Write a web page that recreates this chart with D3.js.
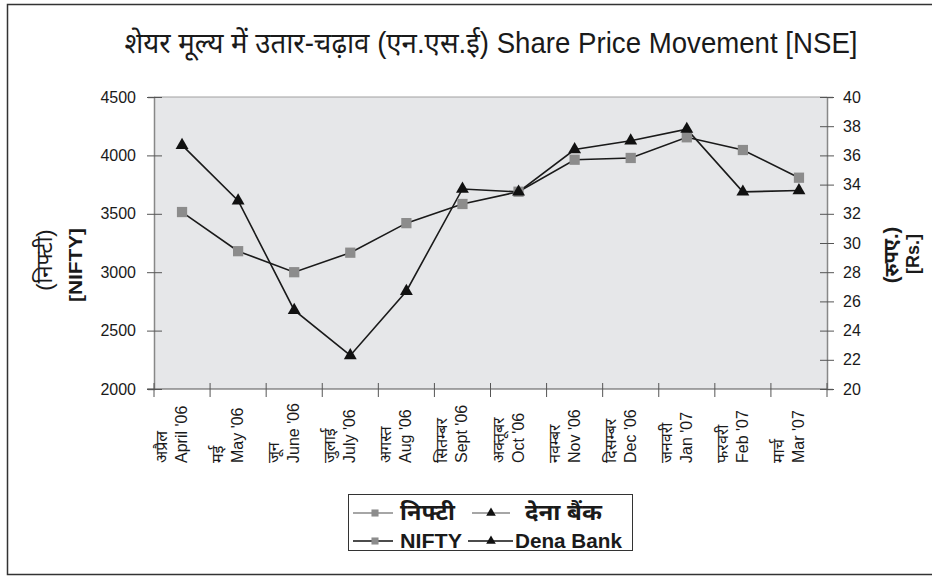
<!DOCTYPE html>
<html>
<head>
<meta charset="utf-8">
<script src="https://cdn.jsdelivr.net/npm/d3@7/dist/d3.min.js"></script>
<style>
  body { margin: 0; background: #fff; }
  text { font-family: "Liberation Sans", Arial, "Noto Sans", sans-serif; fill: #1a1a1a; }
</style>
</head>
<body>
<div id="container"></div>
<script>
let w = 932;
let h = 576;

// data
let monthsHi = ["अप्रैल", "मई", "जून", "जुलाई", "अगस्त", "सितम्बर", "अक्तूबर", "नवम्बर", "दिसम्बर", "जनवरी", "फरवरी", "मार्च"];
let monthsEn = ["April '06", "May '06", "June '06", "July '06", "Aug '06", "Sept '06", "Oct '06", "Nov '06", "Dec '06", "Jan '07", "Feb '07", "Mar '07"];
let nifty = [3515, 3180, 3000, 3167, 3420, 3584, 3689, 3963, 3978, 4155, 4046, 3809];
let denaBank = [36.7, 32.9, 25.4, 22.3, 26.7, 33.7, 33.5, 36.4, 37.0, 37.8, 33.5, 33.6];
let leftTicks = [2000, 2500, 3000, 3500, 4000, 4500];
let rightTicks = [20, 22, 24, 26, 28, 30, 32, 34, 36, 38, 40];

let plotLeft = 154, plotRight = 827, plotTop = 97, plotBottom = 389;

let viz = d3.select("#container")
  .append("svg")
    .attr("width", w)
    .attr("height", h)
    .style("display", "block");

// outer frame (right edge runs off the picture)
viz.append("rect")
  .attr("x", 7.5).attr("y", 4.5)
  .attr("width", 940).attr("height", 570)
  .attr("fill", "#fff")
  .attr("stroke", "#333")
  .attr("stroke-width", 1.5);

// title
viz.append("text")
  .attr("x", 491).attr("y", 53)
  .attr("text-anchor", "middle")
  .attr("font-size", 29)
  .attr("textLength", 733)
  .attr("lengthAdjust", "spacingAndGlyphs")
  .text("शेयर मूल्य में उतार-चढ़ाव (एन.एस.ई) Share Price Movement [NSE]");

let xScale = d3.scaleBand().domain(monthsEn).range([plotLeft, plotRight]);
let yLeft = d3.scaleLinear().domain([2000, 4500]).range([plotBottom, plotTop]);
let yRight = d3.scaleLinear().domain([20, 40]).range([plotBottom, plotTop]);

// plot background
viz.append("rect")
  .attr("x", plotLeft).attr("y", plotTop)
  .attr("width", plotRight - plotLeft).attr("height", plotBottom - plotTop)
  .attr("fill", "#e6e7e9");

viz.append("line")
  .attr("x1", plotLeft).attr("x2", plotRight)
  .attr("y1", plotTop).attr("y2", plotTop)
  .attr("stroke", "#a0a0a0");

// left axis
let leftAxis = viz.append("g")
  .attr("transform", "translate(" + plotLeft + ",0)")
  .call(d3.axisLeft(yLeft).tickValues(leftTicks).tickFormat(d3.format("d")).tickSize(6));
leftAxis.select(".domain").attr("stroke", "#888").attr("stroke-width", 1.5);
leftAxis.selectAll(".tick line").attr("stroke", "#555").attr("x1", 8).attr("x2", -7);
leftAxis.selectAll(".tick text")
  .attr("x", -18)
  .attr("font-size", 16)
  .attr("font-family", "Liberation Sans, Arial, sans-serif")
  .attr("fill", "#1a1a1a");

// right axis
let rightAxis = viz.append("g")
  .attr("transform", "translate(" + plotRight + ",0)")
  .call(d3.axisRight(yRight).tickValues(rightTicks).tickSize(6));
rightAxis.select(".domain").attr("stroke", "#888").attr("stroke-width", 1.5);
rightAxis.selectAll(".tick line").attr("stroke", "#555").attr("x1", -7).attr("x2", 7);
rightAxis.selectAll(".tick text")
  .attr("x", 16)
  .attr("font-size", 16)
  .attr("font-family", "Liberation Sans, Arial, sans-serif")
  .attr("fill", "#1a1a1a");

// bottom axis, ticks at band boundaries
let bottomAxis = viz.append("g")
  .attr("transform", "translate(0," + plotBottom + ")");
bottomAxis.append("line")
  .attr("x1", plotLeft - 7).attr("x2", plotRight)
  .attr("stroke", "#555").attr("stroke-width", 1.2);
let bounds = monthsEn.map(function(m){ return xScale(m); }).concat([plotRight]);
bottomAxis.selectAll(".bt")
  .data(bounds)
  .enter()
  .append("line")
    .attr("x1", function(d){ return d; })
    .attr("x2", function(d){ return d; })
    .attr("y1", -6).attr("y2", 8)
    .attr("stroke", "#555");

// month labels, read bottom-up, aligned at the bottom
let labels = viz.selectAll(".mlabel")
  .data(monthsEn)
  .enter()
  .append("g")
    .attr("class", "mlabel")
    .attr("transform", function(d){
      return "translate(" + (xScale(d) + xScale.bandwidth() / 2) + ",463) rotate(-90)";
    });
labels.append("text")
  .attr("x", 0).attr("y", -15)
  .attr("text-anchor", "start")
  .attr("font-size", 16)
  .text(function(d, i){ return monthsHi[i]; });
labels.append("text")
  .attr("x", 0).attr("y", 5)
  .attr("text-anchor", "start")
  .attr("font-size", 16)
  .text(function(d){ return d; });

// lines
function cx(i){ return xScale(monthsEn[i]) + xScale.bandwidth() / 2; }
let niftyLine = d3.line()
  .x(function(d, i){ return cx(i); })
  .y(function(d){ return yLeft(d); });
let denaLine = d3.line()
  .x(function(d, i){ return cx(i); })
  .y(function(d){ return yRight(d); });

viz.append("path")
  .attr("d", niftyLine(nifty))
  .attr("fill", "none")
  .attr("stroke", "#1a1a1a")
  .attr("stroke-width", 1.6);
viz.append("path")
  .attr("d", denaLine(denaBank))
  .attr("fill", "none")
  .attr("stroke", "#1a1a1a")
  .attr("stroke-width", 1.6);

let square = d3.symbol().type(d3.symbolSquare).size(105);
let triangle = d3.symbol().type(d3.symbolTriangle).size(72);

viz.selectAll(".niftyPt")
  .data(nifty)
  .enter()
  .append("path")
    .attr("d", square)
    .attr("fill", "#8c8c8c")
    .attr("transform", function(d, i){
      return "translate(" + cx(i) + "," + yLeft(d) + ")";
    });
viz.selectAll(".denaPt")
  .data(denaBank)
  .enter()
  .append("path")
    .attr("d", triangle)
    .attr("fill", "#111")
    .attr("transform", function(d, i){
      return "translate(" + cx(i) + "," + yRight(d) + ")";
    });

// axis titles
viz.append("text")
  .attr("transform", "translate(52,260) rotate(-90)")
  .attr("text-anchor", "middle")
  .attr("font-size", 22)
  .text("(निफ्टी)");
viz.append("text")
  .attr("transform", "translate(82,265) rotate(-90)")
  .attr("text-anchor", "middle")
  .attr("font-size", 19)
  .attr("font-weight", "bold")
  .attr("textLength", 74)
  .attr("lengthAdjust", "spacingAndGlyphs")
  .text("[NIFTY]");
viz.append("text")
  .attr("transform", "translate(898,255) rotate(-90)")
  .attr("text-anchor", "middle")
  .attr("font-size", 20)
  .attr("font-weight", "bold")
  .text("(रुपए.)");
viz.append("text")
  .attr("transform", "translate(919,254) rotate(-90)")
  .attr("text-anchor", "middle")
  .attr("font-size", 18)
  .attr("font-weight", "bold")
  .text("[Rs.]");

// legend
let legend = viz.append("g").attr("transform", "translate(348,494)");
legend.append("rect")
  .attr("x", 0.5).attr("y", 0.5)
  .attr("width", 284).attr("height", 56)
  .attr("fill", "#fff")
  .attr("stroke", "#333");

let legendRows = [
  { y: 19, a: "निफ्टी", aw: 55, b: "देना बैंक", bx: 177, bw: 77, size: 22, col: "#888", l2: [124, 162] },
  { y: 47, a: "NIFTY", aw: 62, b: "Dena Bank", bx: 167, bw: 107, size: 20, col: "#111", l2: [120, 165] }
];
legendRows.forEach(function(r){
  legend.append("line").attr("x1", 5).attr("x2", 45).attr("y1", r.y).attr("y2", r.y)
    .attr("stroke", r.col).attr("stroke-width", 1.4);
  legend.append("path").attr("d", d3.symbol().type(d3.symbolSquare).size(50))
    .attr("fill", "#8c8c8c").attr("transform", "translate(27," + r.y + ")");
  legend.append("text").attr("x", 52).attr("y", r.y + 7)
    .attr("font-size", r.size).attr("font-weight", "bold")
    .attr("textLength", r.aw).attr("lengthAdjust", "spacingAndGlyphs")
    .text(r.a);
  legend.append("line").attr("x1", r.l2[0]).attr("x2", r.l2[1]).attr("y1", r.y).attr("y2", r.y)
    .attr("stroke", r.col).attr("stroke-width", 1.4);
  legend.append("path").attr("d", d3.symbol().type(d3.symbolTriangle).size(40))
    .attr("fill", "#111").attr("transform", "translate(143," + r.y + ")");
  legend.append("text").attr("x", r.bx).attr("y", r.y + 7)
    .attr("font-size", r.size).attr("font-weight", "bold")
    .attr("textLength", r.bw).attr("lengthAdjust", "spacingAndGlyphs")
    .text(r.b);
});
</script>
</body>
</html>
